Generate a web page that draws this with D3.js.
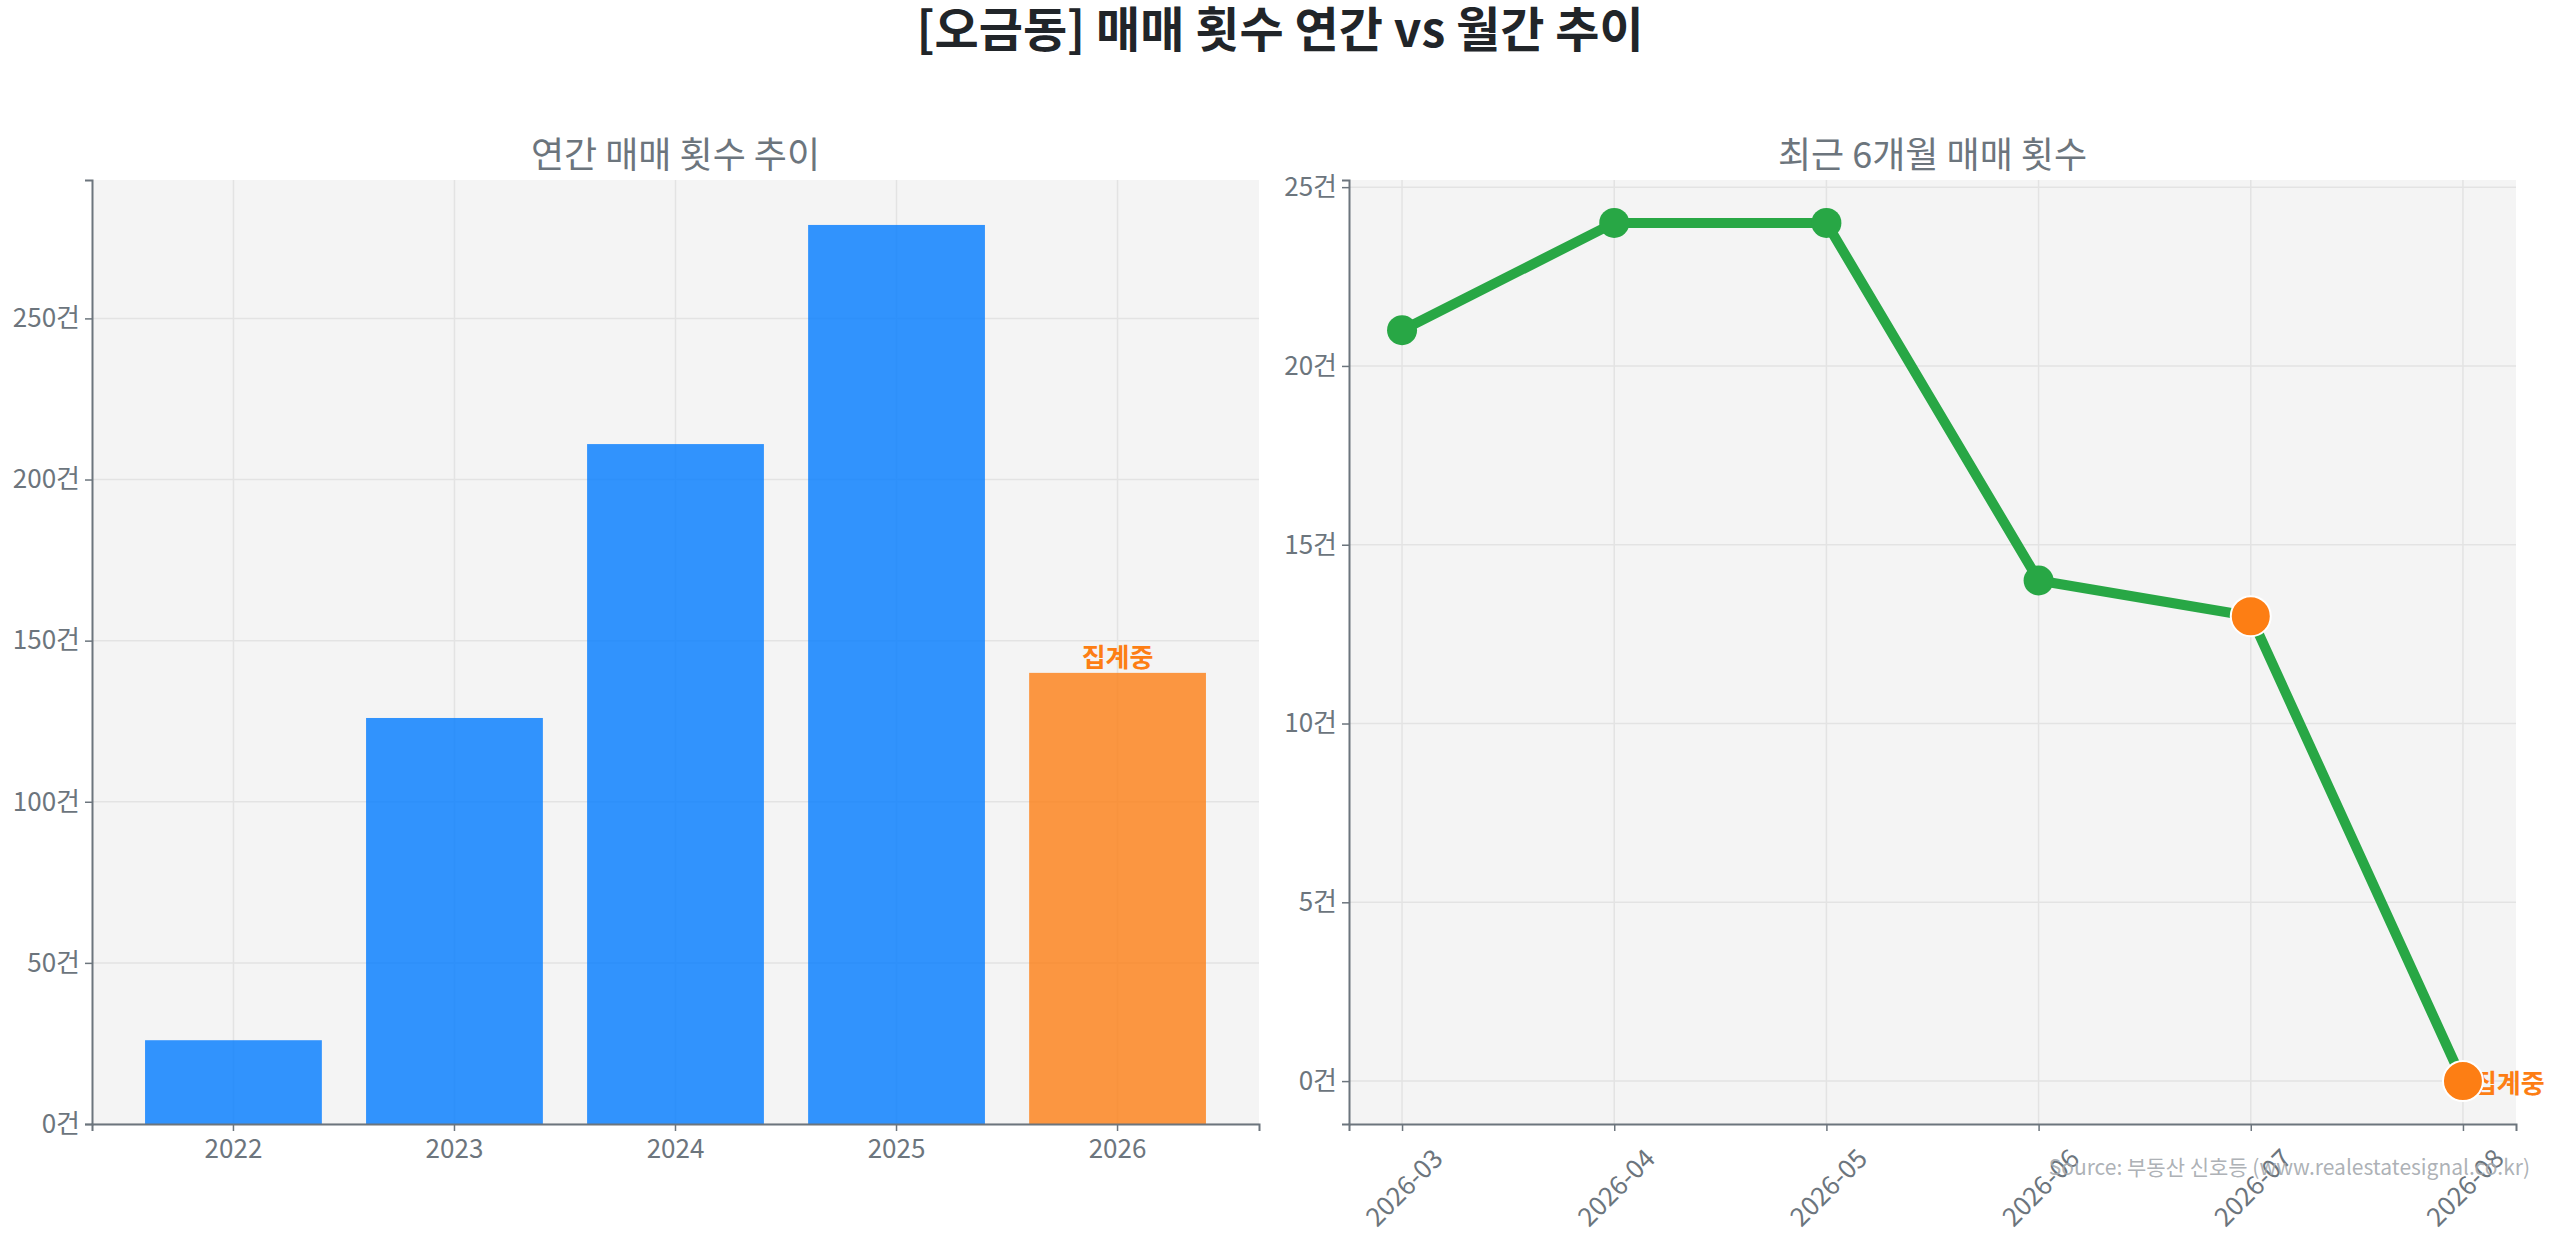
<!DOCTYPE html>
<html>
<head>
<meta charset="utf-8">
<script src="https://cdn.jsdelivr.net/npm/d3@7"></script>
<style>
  body { margin: 0; background: #ffffff; }
  svg { display: block; font-family: "Noto Sans CJK KR", "Noto Sans", sans-serif; }
</style>
</head>
<body>
<script>
var w = 2560; // Width of the page
var h = 1235; // Height of the page

// Data
var years = ["2022", "2023", "2024", "2025", "2026"];
var yearlyCounts = [26, 126, 211, 279, 140];
var pendingYear = "2026";
var yearTicks = [0, 50, 100, 150, 200, 250];

var months = ["2026-03", "2026-04", "2026-05", "2026-06", "2026-07", "2026-08"];
var monthlyCounts = [21, 24, 24, 14, 13, 0];
var highlightMonths = ["2026-07", "2026-08"];
var pendingMonth = "2026-08";
var monthTicks = [0, 5, 10, 15, 20, 25];

var pendingLabel = "집계중";
var unit = "건";

// Colours
var blue = "#007bff";
var orange = "#fd7e14";
var green = "#28a745";
var grey = "#6c757d";
var panelBg = "#f4f4f4";
var gridColor = "#e3e3e3";

// Panel boxes
var plotTop = 180, plotBottom = 1124;
var leftBox = { x0: 92, x1: 1259 };
var rightBox = { x0: 1349, x1: 2516 };

var svg = d3.select("body")
    .append("svg")
    .attr("width", w)
    .attr("height", h);

// Main title
svg.append("text")
    .attr("x", w / 2)
    .attr("y", 47)
    .attr("text-anchor", "middle")
    .attr("font-size", 48)
    .attr("font-weight", "bold")
    .attr("fill", "#212529")
    .text("[오금동] 매매 횟수 연간 vs 월간 추이");

function panel(box, title) {
    var g = svg.append("g");
    g.append("rect")
        .attr("x", box.x0)
        .attr("y", plotTop)
        .attr("width", box.x1 - box.x0)
        .attr("height", plotBottom - plotTop)
        .attr("fill", panelBg);
    g.append("text")
        .attr("x", (box.x0 + box.x1) / 2)
        .attr("y", 168)
        .attr("text-anchor", "middle")
        .attr("font-size", 36)
        .attr("fill", grey)
        .text(title);
    return g;
}

function styleAxis(a) {
    a.select(".domain").attr("stroke", grey).attr("stroke-width", 2);
    a.selectAll(".tick line").attr("stroke", grey).attr("stroke-width", 1.5);
    a.selectAll(".tick text").attr("fill", grey).attr("font-size", 26)
        .attr("font-family", "\"Noto Sans CJK KR\", sans-serif");
}

// ---------- Left: yearly bars ----------
var g1 = panel(leftBox, "연간 매매 횟수 추이");

var xScale = d3.scaleBand()
    .domain(years)
    .range([leftBox.x0, leftBox.x1])
    .paddingInner(0.2)
    .paddingOuter(0.24);

var yScale = d3.scaleLinear()
    .domain([0, d3.max(yearlyCounts) * 1.05])
    .range([plotBottom, plotTop]);

// grid
g1.selectAll(".vgrid")
    .data(years)
    .join("line")
    .attr("x1", function(d) { return xScale(d) + xScale.bandwidth() / 2; })
    .attr("x2", function(d) { return xScale(d) + xScale.bandwidth() / 2; })
    .attr("y1", plotTop).attr("y2", plotBottom)
    .attr("stroke", gridColor).attr("stroke-width", 1.5);
g1.selectAll(".hgrid")
    .data(yearTicks)
    .join("line")
    .attr("x1", leftBox.x0).attr("x2", leftBox.x1)
    .attr("y1", function(d) { return yScale(d); })
    .attr("y2", function(d) { return yScale(d); })
    .attr("stroke", gridColor).attr("stroke-width", 1.5);

// bars
g1.selectAll(".bar")
    .data(yearlyCounts)
    .join("rect")
    .attr("x", function(d, i) { return xScale(years[i]); })
    .attr("y", function(d) { return yScale(d); })
    .attr("width", xScale.bandwidth())
    .attr("height", function(d) { return plotBottom - yScale(d); })
    .attr("fill", function(d, i) { return years[i] === pendingYear ? orange : blue; })
    .attr("fill-opacity", 0.8);

// pending label above bar
var pi = years.indexOf(pendingYear);
g1.append("text")
    .attr("x", xScale(pendingYear) + xScale.bandwidth() / 2)
    .attr("y", yScale(yearlyCounts[pi]) - 6)
    .attr("text-anchor", "middle")
    .attr("font-size", 26)
    .attr("font-weight", "bold")
    .attr("fill", orange)
    .text(pendingLabel);

var xAxis1 = g1.append("g")
    .attr("transform", "translate(0," + plotBottom + ")")
    .call(d3.axisBottom(xScale).tickSizeOuter(0).tickSize(7).tickPadding(9));
styleAxis(xAxis1);

var yAxis1 = g1.append("g")
    .attr("transform", "translate(" + leftBox.x0 + ",0)")
    .call(d3.axisLeft(yScale).tickValues(yearTicks).tickSizeOuter(0).tickSize(7).tickPadding(5)
        .tickFormat(function(d) { return d + unit; }));
styleAxis(yAxis1);

// ---------- Right: monthly line ----------
var g2 = panel(rightBox, "최근 6개월 매매 횟수");

var xScale2 = d3.scalePoint()
    .domain(months)
    .range([rightBox.x0, rightBox.x1])
    .padding(0.25);

var mMax = d3.max(monthlyCounts), mMin = d3.min(monthlyCounts);
var pad = (mMax - mMin) * 0.05;
var yScale2 = d3.scaleLinear()
    .domain([mMin - pad, mMax + pad])
    .range([plotBottom, plotTop]);

g2.selectAll(".vgrid")
    .data(months)
    .join("line")
    .attr("x1", function(d) { return xScale2(d); })
    .attr("x2", function(d) { return xScale2(d); })
    .attr("y1", plotTop).attr("y2", plotBottom)
    .attr("stroke", gridColor).attr("stroke-width", 1.5);
g2.selectAll(".hgrid")
    .data(monthTicks)
    .join("line")
    .attr("x1", rightBox.x0).attr("x2", rightBox.x1)
    .attr("y1", function(d) { return yScale2(d); })
    .attr("y2", function(d) { return yScale2(d); })
    .attr("stroke", gridColor).attr("stroke-width", 1.5);

var line = d3.line()
    .x(function(d, i) { return xScale2(months[i]); })
    .y(function(d) { return yScale2(d); });

g2.append("path")
    .datum(monthlyCounts)
    .attr("d", line)
    .attr("fill", "none")
    .attr("stroke", green)
    .attr("stroke-width", 10)
    .attr("stroke-linejoin", "round");

// pending label (drawn under the marker)
var pm = months.indexOf(pendingMonth);
g2.append("text")
    .attr("x", xScale2(pendingMonth) + 10)
    .attr("y", yScale2(monthlyCounts[pm]))
    .attr("dominant-baseline", "central")
    .attr("font-size", 26)
    .attr("font-weight", "bold")
    .attr("fill", orange)
    .text(pendingLabel);

var pts = monthlyCounts.map(function(d, i) { return { m: months[i], v: d }; });

g2.selectAll(".dot")
    .data(pts.filter(function(p) { return highlightMonths.indexOf(p.m) < 0; }))
    .join("circle")
    .attr("cx", function(p) { return xScale2(p.m); })
    .attr("cy", function(p) { return yScale2(p.v); })
    .attr("r", 15)
    .attr("fill", green);

g2.selectAll(".hdot")
    .data(pts.filter(function(p) { return highlightMonths.indexOf(p.m) >= 0; }))
    .join("circle")
    .attr("cx", function(p) { return xScale2(p.m); })
    .attr("cy", function(p) { return yScale2(p.v); })
    .attr("r", 20)
    .attr("fill", orange)
    .attr("stroke", "#ffffff")
    .attr("stroke-width", 2);

var xAxis2 = g2.append("g")
    .attr("transform", "translate(0," + plotBottom + ")")
    .call(d3.axisBottom(xScale2).tickSizeOuter(0).tickSize(7));
styleAxis(xAxis2);
xAxis2.selectAll(".tick text")
    .attr("text-anchor", "middle")
    .attr("dy", null)
    .attr("y", 0)
    .attr("dominant-baseline", "central")
    .attr("transform", "translate(0,62) rotate(-45)");

var yAxis2 = g2.append("g")
    .attr("transform", "translate(" + rightBox.x0 + ",0)")
    .call(d3.axisLeft(yScale2).tickValues(monthTicks).tickSizeOuter(0).tickSize(7).tickPadding(5)
        .tickFormat(function(d) { return d + unit; }));
styleAxis(yAxis2);

// Source note
svg.append("text")
    .attr("x", 2530)
    .attr("y", 1166)
    .attr("text-anchor", "end")
    .attr("dominant-baseline", "central")
    .attr("font-size", 21)
    .attr("fill", "#a3a8ad")
    .attr("fill-opacity", 0.9)
    .text("Source: 부동산 신호등 (www.realestatesignal.co.kr)");
</script>
</body>
</html>
